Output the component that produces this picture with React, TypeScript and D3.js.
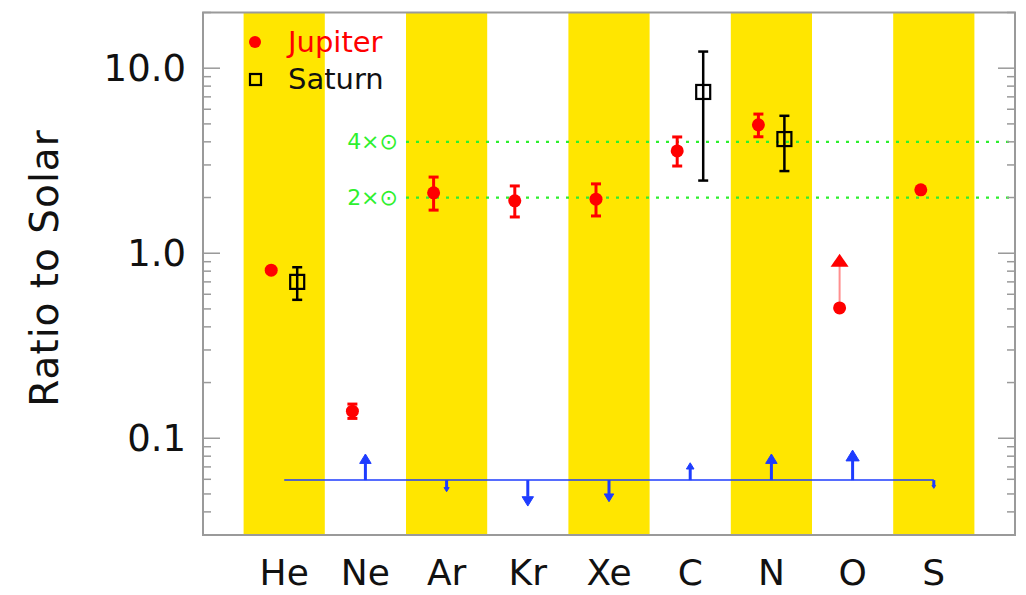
import React from "react";
import * as d3 from "d3";

const categories = ["He", "Ne", "Ar", "Kr", "Xe", "C", "N", "O", "S"];
const shadedCategories = ["He", "Ar", "Xe", "N", "S"];

const jupiterElements = ["He", "Ne", "Ar", "Kr", "Xe", "C", "N", "O", "S"];
const jupiterValues = [0.81, 0.14, 2.12, 1.92, 1.96, 3.57, 4.94, 0.506, 2.2];
const jupiterLow = [null, 0.128, 1.71, 1.57, 1.59, 2.96, 4.26, null, null];
const jupiterHigh = [null, 0.153, 2.58, 2.31, 2.37, 4.25, 5.65, null, null];

const saturnElements = ["He", "C", "N"];
const saturnValues = [0.7, 7.44, 4.14];
const saturnLow = [0.56, 2.47, 2.78];
const saturnHigh = [0.84, 12.3, 5.53];

const oxygenElement = "O";
const oxygenLowerLimit = 0.91;

const arrowBase = 0.0594;
const arrowElements = ["Ne", "Ar", "Kr", "Xe", "C", "N", "O", "S"];
const arrowTips = [0.0822, 0.0514, 0.043, 0.0454, 0.0737, 0.0822, 0.0863, 0.0536];

const guideLevels = [2, 4];
const guideLabels = ["2×⊙", "4×⊙"];

const yTickValues = [0.1, 1, 10];
const yTickLabels = ["0.1", "1.0", "10.0"];

const W = 1026;
const H = 595;
const left = 203;
const right = 1015;
const top = 12.5;
const bottom = 535;

const FONT = "'DejaVu Sans', Verdana, sans-serif";
const YELLOW = "#FFE600";
const RED = "#FF0000";
const BLUE = "#1e3cff";
const GREEN = "#2ef02e";
const FRAME = "#9a9a9a";

export default function App() {
  const x = d3.scaleLinear().domain([-1, 9]).range([left, right]);
  const y = d3.scaleLog().domain([0.03, 20]).range([bottom, top]);
  const idx = (c: string) => categories.indexOf(c);
  const JOFF = -13;
  const SOFF = 13;

  const minorTicks: number[] = [];
  for (let e = -2; e <= 1; e++) {
    for (let m = 1; m <= 9; m++) {
      const v = m * Math.pow(10, e);
      if (v >= 0.03 && v <= 20) minorTicks.push(v);
    }
  }

  const errBar = (cx: number, lo: number, hi: number, color: string, w: number, key: string) => (
    <g key={key} stroke={color} strokeWidth={w}>
      <line x1={cx} x2={cx} y1={y(lo)} y2={y(hi)} />
      <line x1={cx - 5} x2={cx + 5} y1={y(lo)} y2={y(lo)} />
      <line x1={cx - 5} x2={cx + 5} y1={y(hi)} y2={y(hi)} />
    </g>
  );

  return (
    <svg
      width={W}
      height={H}
      style={{ position: "fixed", left: 0, top: 0, background: "#fff" }}
      fontFamily={FONT}
    >
      {shadedCategories.map((c) => (
        <rect
          key={c}
          x={x(idx(c) - 0.5)}
          y={top}
          width={x(idx(c) + 0.5) - x(idx(c) - 0.5)}
          height={bottom - top}
          fill={YELLOW}
        />
      ))}

      {guideLevels.map((g, i) => (
        <g key={g}>
          <line
            x1={x(1.5)}
            x2={right}
            y1={y(g)}
            y2={y(g)}
            stroke={GREEN}
            strokeWidth={2.2}
            strokeDasharray="3 7"
          />
          <text
            x={x(1.5) - 8}
            y={y(g) + 7}
            textAnchor="end"
            fill={GREEN}
            fontSize={22}
          >
            {guideLabels[i]}
          </text>
        </g>
      ))}

      <line
        x1={x(idx("He"))}
        x2={x(idx("S"))}
        y1={y(arrowBase)}
        y2={y(arrowBase)}
        stroke={BLUE}
        strokeOpacity={0.75}
        strokeWidth={2}
      />
      {arrowElements.map((c, i) => {
        const cx = x(idx(c));
        const y0 = y(arrowBase);
        const y1 = y(arrowTips[i]);
        const len = Math.abs(y1 - y0);
        const dir = y1 < y0 ? -1 : 1;
        const hh = len * 0.36;
        const hw = len * 0.22;
        const shaftEnd = y1 - dir * hh;
        return (
          <g key={c}>
            <line x1={cx} x2={cx} y1={y0} y2={shaftEnd} stroke={BLUE} strokeWidth={3} />
            <path
              d={`M${cx - hw},${shaftEnd} L${cx + hw},${shaftEnd} L${cx},${y1} Z`}
              fill={BLUE}
              stroke={BLUE}
              strokeWidth={1}
            />
          </g>
        );
      })}

      {(() => {
        const cx = x(idx(oxygenElement)) + JOFF;
        const jv = jupiterValues[jupiterElements.indexOf(oxygenElement)];
        const ty = y(oxygenLowerLimit);
        return (
          <g>
            <line x1={cx} x2={cx} y1={y(jv)} y2={ty} stroke="#ff8f8f" strokeWidth={2} />
            <path d={`M${cx - 9},${ty + 6} L${cx + 9},${ty + 6} L${cx},${ty - 7} Z`} fill={RED} />
          </g>
        );
      })()}

      {jupiterElements.map((c, i) => {
        const cx = x(idx(c)) + JOFF;
        const lo = jupiterLow[i];
        const hi = jupiterHigh[i];
        return (
          <g key={"j" + c}>
            {lo != null && hi != null ? errBar(cx, lo, hi, RED, 3, "je" + c) : null}
            <circle cx={cx} cy={y(jupiterValues[i])} r={6.5} fill={RED} />
          </g>
        );
      })}

      {saturnElements.map((c, i) => {
        const cx = x(idx(c)) + SOFF;
        const cy = y(saturnValues[i]);
        return (
          <g key={"s" + c}>
            {errBar(cx, saturnLow[i], saturnHigh[i], "#000", 2.5, "se" + c)}
            <rect x={cx - 7} y={cy - 7} width={14} height={14} fill="none" stroke="#000" strokeWidth={2.2} />
          </g>
        );
      })}

      <rect x={left} y={top} width={right - left} height={bottom - top} fill="none" stroke={FRAME} strokeWidth={2} />

      {minorTicks.map((v) => {
        const major = yTickValues.includes(v);
        const L = major ? 17 : 8;
        return (
          <g key={"t" + v} stroke={FRAME} strokeWidth={1.5}>
            <line x1={left} x2={left + L} y1={y(v)} y2={y(v)} />
            <line x1={right} x2={right - L} y1={y(v)} y2={y(v)} />
          </g>
        );
      })}

      {yTickValues.map((v, i) => (
        <text key={"yl" + v} x={186} y={y(v) + 13} textAnchor="end" fontSize={37} fill="#111">
          {yTickLabels[i]}
        </text>
      ))}

      <text
        transform={`translate(58,268) rotate(-90)`}
        textAnchor="middle"
        fontSize={39}
        letterSpacing={1}
        fill="#111"
      >
        Ratio to Solar
      </text>

      {categories.map((c) => (
        <text key={"xl" + c} x={x(idx(c))} y={585} textAnchor="middle" fontSize={36} fill="#111">
          {c}
        </text>
      ))}

      <circle cx={255} cy={42} r={6} fill={RED} />
      <text x={288} y={52} fontSize={29} fill={RED}>
        Jupiter
      </text>
      <rect x={250} y={74} width={11} height={11} fill="none" stroke="#000" strokeWidth={2.2} />
      <text x={288} y={89} fontSize={29} fill="#111">
        Saturn
      </text>
    </svg>
  );
}
